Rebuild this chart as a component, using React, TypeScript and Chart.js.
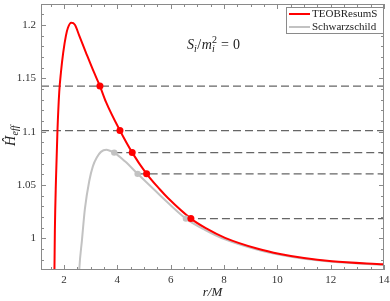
import React, { useEffect, useRef } from "react";
import { Chart, registerables } from "chart.js";
Chart.register(...registerables);

const X_MIN = 1.14;
const X_MAX = 14;
const Y_MIN = 0.9703;
const Y_MAX = 1.2198;

const xTickValues = [2, 4, 6, 8, 10, 12, 14];
const xTickLabels = ["2", "4", "6", "8", "10", "12", "14"];
const yTickValues = [1, 1.05, 1.1, 1.15, 1.2];
const yTickLabels = ["1", "1.05", "1.1", "1.15", "1.2"];
const xMinorStep = 0.5;
const yMinorStep = 0.01;

const seriesLabels = ["TEOBResumS", "Schwarzschild"];

const teobR = [1.63, 1.644, 1.66, 1.70, 1.756, 1.824, 1.888, 1.974, 2.075, 2.15, 2.274, 2.41, 2.574, 2.825, 3.125, 3.35, 3.575, 4.10, 4.56, 5.10, 5.60, 5.90, 6.76, 7.3, 8.04, 9.27, 10.1, 11.0, 12.05, 14.0];
const teobH = [0.955, 0.9703, 1.0074, 1.0538, 1.1001, 1.1372, 1.1558, 1.1744, 1.1901, 1.1975, 1.2021, 1.2003, 1.1901, 1.1743, 1.1558, 1.1428, 1.128, 1.1011, 1.0804, 1.0605, 1.0458, 1.0378, 1.0185, 1.0098, 1.0005, 0.9902, 0.9853, 0.9815, 0.9786, 0.9756];

const schwR = [2.55, 2.574, 2.675, 2.787, 2.949, 3.087, 3.237, 3.387, 3.594, 3.725, 3.886, 4.287, 4.763, 5.6, 6.574, 7.3, 8.04, 9.27, 10.1, 11.0, 12.05, 14.0];
const schwH = [0.955, 0.9703, 0.9981, 1.0278, 1.0538, 1.0677, 1.076, 1.0811, 1.083, 1.0821, 1.0804, 1.0722, 1.0605, 1.0405, 1.0185, 1.0078, 0.9990, 0.9892, 0.9845, 0.9808, 0.9780, 0.9751];

const levelH = [1.1428, 1.1011, 1.0804, 1.0605, 1.0185];
const teobDotR = [3.35, 4.10, 4.56, 5.10, 6.76];
const schwDotR: (number | null)[] = [null, null, 3.886, 4.763, 6.574];

const RED = "#ff0000";
const GRAY = "#c2c2c2";
const SERIF = "'Liberation Serif', 'Times New Roman', serif";

const decorPlugin = {
  id: "decor",
  afterDatasetsDraw(chart: any) {
    const { ctx, chartArea } = chart;
    const { left, right, top, bottom } = chartArea;
    const xs = chart.scales.x;
    const ys = chart.scales.y;
    ctx.save();
    ctx.strokeStyle = "#8a8a8a";
    ctx.lineWidth = 1;
    ctx.strokeRect(left + 0.5, top + 0.5, right - left - 1, bottom - top - 1);
    ctx.beginPath();
    const majL = 5, minL = 3;
    for (let v = Math.ceil(X_MIN / xMinorStep) * xMinorStep; v <= X_MAX + 1e-9; v += xMinorStep) {
      const isMajor = xTickValues.some((t) => Math.abs(t - v) < 1e-6);
      const len = isMajor ? majL : minL;
      const px = Math.round(xs.getPixelForValue(v)) + 0.5;
      ctx.moveTo(px, bottom);
      ctx.lineTo(px, bottom - len);
      ctx.moveTo(px, top);
      ctx.lineTo(px, top + len);
    }
    for (let k = Math.ceil(Y_MIN / yMinorStep); k * yMinorStep <= Y_MAX + 1e-9; k++) {
      const v = k * yMinorStep;
      const isMajor = yTickValues.some((t) => Math.abs(t - v) < 1e-6);
      const len = isMajor ? majL : minL;
      const py = Math.round(ys.getPixelForValue(v)) + 0.5;
      ctx.moveTo(left, py);
      ctx.lineTo(left + len, py);
      ctx.moveTo(right, py);
      ctx.lineTo(right - len, py);
    }
    ctx.stroke();
    ctx.restore();
  },
  afterDraw(chart: any) {
    const { ctx, chartArea } = chart;
    const { left, right } = chartArea;
    ctx.save();
    ctx.fillStyle = "#222";
    ctx.textBaseline = "alphabetic";
    // x axis title
    ctx.font = `italic 13px ${SERIF}`;
    ctx.textAlign = "center";
    ctx.fillText("r/M", (left + right) / 2, 296);
    // y axis title (rotated)
    ctx.save();
    ctx.translate(15, 146);
    ctx.rotate(-Math.PI / 2);
    ctx.textAlign = "left";
    ctx.font = `italic 14px ${SERIF}`;
    ctx.fillText("\u0124", 0, 0);
    const hw = ctx.measureText("\u0124").width;
    ctx.font = `italic 10px ${SERIF}`;
    ctx.fillText("eff", hw + 0.5, 3);
    ctx.restore();

    // annotation S_i / m_i^2 = 0
    let ax = 187;
    const ay = 49;
    ctx.textAlign = "left";
    ctx.font = `italic 14px ${SERIF}`;
    ctx.fillText("S", ax, ay);
    ax += ctx.measureText("S").width;
    ctx.font = `italic 10px ${SERIF}`;
    ctx.fillText("i", ax, ay + 3);
    ax += ctx.measureText("i").width + 0.5;
    ctx.font = `14px ${SERIF}`;
    ctx.fillText("/", ax, ay);
    ax += ctx.measureText("/").width + 0.5;
    ctx.font = `italic 14px ${SERIF}`;
    ctx.fillText("m", ax, ay);
    ax += ctx.measureText("m").width + 0.3;
    ctx.font = `italic 10px ${SERIF}`;
    ctx.fillText("i", ax, ay + 3);
    ctx.font = `10px ${SERIF}`;
    ctx.fillText("2", ax, ay - 6);
    ax += ctx.measureText("2").width + 4;
    ctx.font = `14px ${SERIF}`;
    ctx.fillText("=", ax, ay);
    ax += ctx.measureText("=").width + 4;
    ctx.fillText("0", ax, ay);

    // legend
    const bx = 286.5, by = 7.5, bw = right - 0.5 - 286.5, bh = 26;
    ctx.fillStyle = "#ffffff";
    ctx.fillRect(bx, by, bw, bh);
    ctx.strokeStyle = "#8a8a8a";
    ctx.lineWidth = 1;
    ctx.strokeRect(bx, by, bw, bh);
    const colors = [RED, GRAY];
    ctx.font = `11px ${SERIF}`;
    seriesLabels.forEach((lab, i) => {
      const ly = 14 + i * 13;
      ctx.strokeStyle = colors[i];
      ctx.lineWidth = 2;
      ctx.beginPath();
      ctx.moveTo(289, ly);
      ctx.lineTo(310, ly);
      ctx.stroke();
      ctx.fillStyle = "#222";
      ctx.textBaseline = "middle";
      ctx.fillText(lab, 312, ly + 0.5);
    });
    ctx.restore();
  },
};

export default function App() {
  const ref = useRef<HTMLCanvasElement>(null);
  useEffect(() => {
    const canvas = ref.current!;
    const pts = (xs: number[], ys: number[]) => xs.map((x, i) => ({ x, y: ys[i] }));
    const levelSets = levelH.map((h, i) => ({
      type: "line",
      label: "level" + i,
      data: [
        { x: schwDotR[i] ?? X_MIN, y: h },
        { x: X_MAX, y: h },
      ],
      borderColor: "#666666",
      borderWidth: 1.3,
      borderDash: [8, 4],
      pointRadius: 0,
      order: 3,
    }));
    const schwDots = schwDotR
      .map((r, i) => (r == null ? null : { x: r, y: levelH[i] }))
      .filter((p) => p != null);
    const chart = new Chart(canvas, {
      type: "line",
      data: {
        datasets: [
          {
            type: "scatter",
            label: "teobDots",
            data: teobDotR.map((r, i) => ({ x: r, y: levelH[i] })),
            pointRadius: 3.5,
            pointBackgroundColor: RED,
            pointBorderWidth: 0,
            showLine: false,
            order: 0,
          },
          {
            type: "scatter",
            label: "schwDots",
            data: schwDots,
            pointRadius: 3.2,
            pointBackgroundColor: GRAY,
            pointBorderWidth: 0,
            showLine: false,
            order: 0.5,
          },
          {
            type: "line",
            label: seriesLabels[0],
            data: pts(teobR, teobH),
            borderColor: RED,
            borderWidth: 2,
            pointRadius: 0,
            cubicInterpolationMode: "monotone",
            fill: false,
            order: 1,
          },
          {
            type: "line",
            label: seriesLabels[1],
            data: pts(schwR, schwH),
            borderColor: GRAY,
            borderWidth: 2,
            pointRadius: 0,
            cubicInterpolationMode: "monotone",
            fill: false,
            order: 2,
          },
          ...levelSets,
        ] as any,
      },
      options: {
        responsive: false,
        animation: false,
        devicePixelRatio: 1,
        layout: { padding: { top: 1, right: 6, left: 0, bottom: 0 } },
        plugins: { legend: { display: false }, tooltip: { enabled: false } },
        scales: {
          x: {
            type: "linear",
            min: X_MIN,
            max: X_MAX,
            grid: { display: false, drawTicks: false },
            border: { display: false },
            ticks: {
              font: { family: SERIF, size: 11 },
              color: "#333",
              padding: 4,
              maxRotation: 0,
              autoSkip: false,
              callback: (_v: any, i: number) => xTickLabels[i],
            },
            afterBuildTicks: (s: any) => {
              s.ticks = xTickValues.map((v) => ({ value: v }));
            },
            afterFit: (s: any) => {
              s.height = 31;
              s.paddingLeft = 0;
              s.paddingRight = 0;
            },
          },
          y: {
            type: "linear",
            min: Y_MIN,
            max: Y_MAX,
            grid: { display: false, drawTicks: false },
            border: { display: false },
            ticks: {
              font: { family: SERIF, size: 11 },
              color: "#333",
              padding: 5,
              autoSkip: false,
              callback: (_v: any, i: number) => yTickLabels[i],
            },
            afterBuildTicks: (s: any) => {
              s.ticks = yTickValues.map((v) => ({ value: v }));
            },
            afterFit: (s: any) => {
              s.width = 41;
              s.paddingTop = 0;
              s.paddingBottom = 0;
            },
          },
        },
      } as any,
      plugins: [decorPlugin],
    });
    return () => chart.destroy();
  }, []);
  return (
    <div style={{ position: "fixed", left: 0, top: 0, width: 390, height: 301, background: "#fff" }}>
      <canvas ref={ref} width={390} height={301} style={{ display: "block" }} />
    </div>
  );
}
